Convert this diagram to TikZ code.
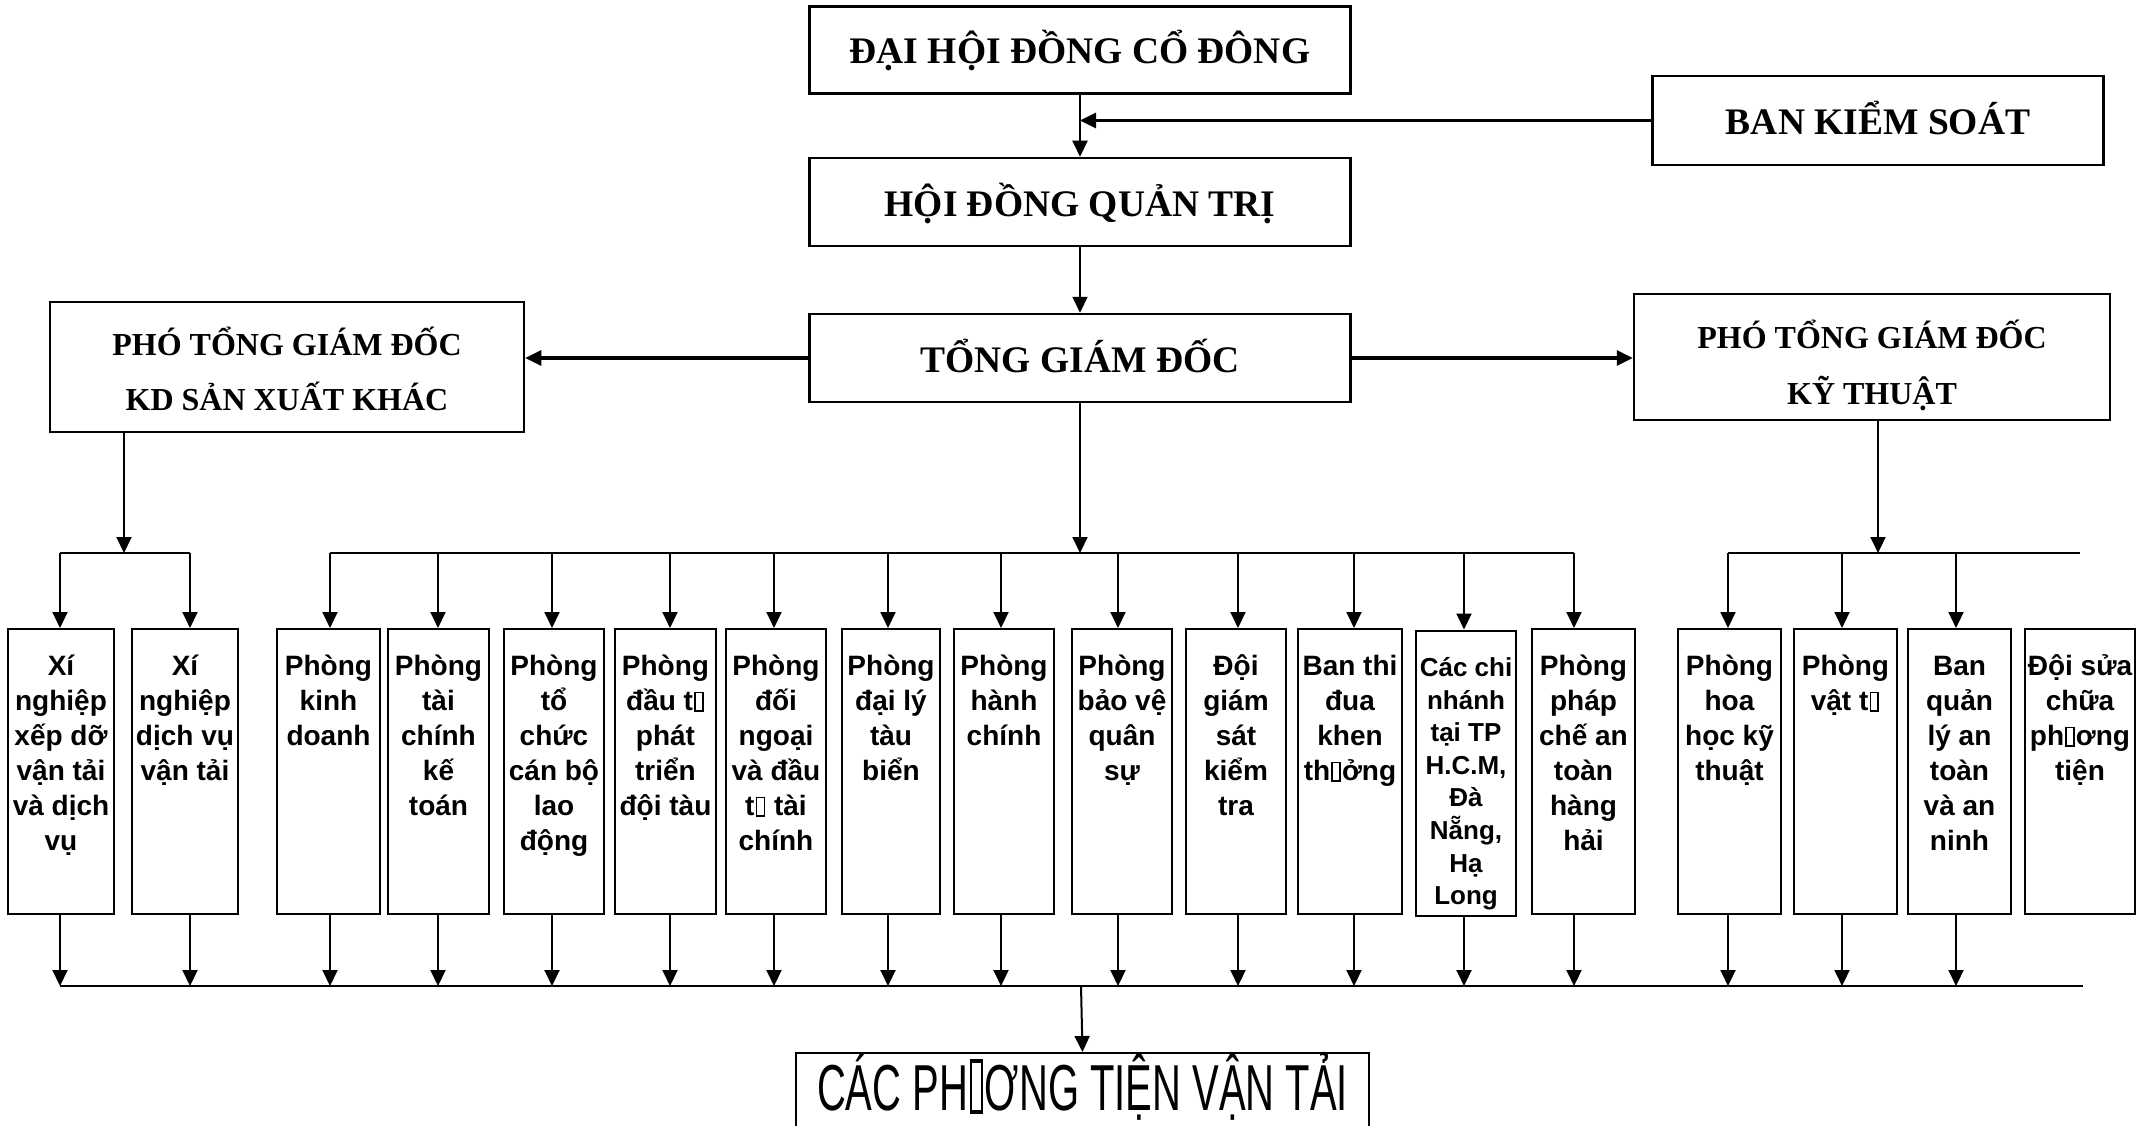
\documentclass[tikz,border=0pt]{standalone}
\usepackage{fontspec}
\usepackage{graphicx}
\setmainfont{Liberation Serif}
\newfontfamily\sansf{Liberation Sans}
\usetikzlibrary{arrows.meta}
\newcommand{\tofu}[1]{\kern0.04em\relax{\setlength{\fboxsep}{0pt}\setlength{\fboxrule}{0.06em}\fbox{\rule{0pt}{#1}\kern0.22em\relax}}\kern0.04em\relax}
\newcommand{\ulines}[2]{\parbox[c][285pt][t]{#1}{\centering\vspace*{18pt}\rule{0pt}{28pt}#2}}
\newcommand{\ulinesS}[2]{\parbox[c][285pt][t]{#1}{\centering\vspace*{20pt}\rule{0pt}{26pt}#2}}
\newcommand{\vlines}[4]{\parbox[c][#2][t]{#1}{\centering\vspace*{#3}\rule{0pt}{30pt}#4}}
\tikzset{
  topbox/.style={draw, line width=2.5pt, inner sep=0pt, font=\bfseries\fontsize{37.5}{44}\selectfont, text height=28pt, text depth=0pt},
  vicebox/.style={draw, line width=2.5pt, inner sep=0pt},
  unit/.style={draw, line width=2pt, inner sep=0pt, font=\sansf\bfseries\fontsize{28}{35}\selectfont},
  units/.style={draw, line width=2pt, inner sep=0pt, font=\sansf\bfseries\fontsize{26}{32.6}\selectfont},
  arr/.style={line width=2pt, -{Triangle[length=16pt,width=15pt]}},
  arrthick/.style={line width=3.2pt, -{Triangle[length=16pt,width=15pt]}},
  bus/.style={line width=2.2pt},
}
\begin{document}
\begin{tikzpicture}[x=1pt,y=-1pt]
\useasboundingbox (0,0) rectangle (2154,1126);
\clip (0,0) rectangle (2154,1126);
\fill[white] (0,0) rectangle (2154,1126);
% top level
\node[topbox, minimum width=541pt, minimum height=87pt] (dh) at (1080,50) {ĐẠI HỘI ĐỒNG CỔ ĐÔNG};
\node[topbox, minimum width=451pt, minimum height=89pt] (bks) at (1878,120.5) {BAN KIỂM SOÁT};
\node[topbox, minimum width=541pt, minimum height=88pt] (hd) at (1080,202) {HỘI ĐỒNG QUẢN TRỊ};
\node[topbox, minimum width=541pt, minimum height=88pt] (tgd) at (1080,358) {TỔNG GIÁM ĐỐC};
\node[vicebox, font=\bfseries\fontsize{32}{55}\selectfont] (kd) at (287,367) {\vlines{474pt}{130pt}{23pt}{PHÓ TỔNG GIÁM ĐỐC\\ KD SẢN XUẤT KHÁC}};
\node[vicebox, font=\bfseries\fontsize{32}{56}\selectfont] (kt) at (1872,357) {\vlines{476pt}{126pt}{24pt}{PHÓ TỔNG GIÁM ĐỐC\\KỸ THUẬT}};
\draw[arr] (dh.south) -- (hd.north);
\draw[arrthick] (bks.west) -- (bks.west -| dh.south);
\draw[arr] (hd.south) -- (tgd.north);
\draw[arrthick] (tgd.west) -- (kd.east |- tgd.west);
\draw[arrthick] (tgd.east) -- (kt.west |- tgd.east);
% bottom units
\node[unit] (b1) at (61,771.5) {\ulines{106pt}{Xí\\nghiệp\\xếp dỡ\\vận tải\\và dịch\\vụ}};
\node[unit] (b2) at (185,771.5) {\ulines{106pt}{Xí\\nghiệp\\dịch vụ\\vận tải}};
\node[unit] (b3) at (328.5,771.5) {\ulines{103pt}{Phòng\\kinh\\doanh}};
\node[unit] (b4) at (438.5,771.5) {\ulines{101pt}{Phòng\\tài\\chính\\kế\\toán}};
\node[unit] (b5) at (554,771.5) {\ulines{100pt}{Phòng\\tổ\\chức\\cán bộ\\lao\\động}};
\node[unit] (b6) at (665.5,771.5) {\ulines{101pt}{Phòng\\đầu t\tofu{0.6em}\\phát\\triển\\đội tàu}};
\node[unit] (b7) at (776,771.5) {\ulines{100pt}{Phòng\\đối\\ngoại\\và đầu\\t\tofu{0.6em} tài\\chính}};
\node[unit] (b8) at (891,771.5) {\ulines{98pt}{Phòng\\đại lý\\tàu\\biển}};
\node[unit] (b9) at (1004,771.5) {\ulines{100pt}{Phòng\\hành\\chính}};
\node[unit] (b10) at (1122,771.5) {\ulines{100pt}{Phòng\\bảo vệ\\quân\\sự}};
\node[unit] (b11) at (1236,771.5) {\ulines{100pt}{Đội\\giám\\sát\\kiểm\\tra}};
\node[unit] (b12) at (1350,771.5) {\ulines{104pt}{Ban thi\\đua\\khen\\th\tofu{0.6em}ởng}};
\node[units] (b13) at (1466,773) {\ulinesS{100pt}{Các chi\\nhánh\\tại TP\\H.C.M,\\Đà\\Nẵng,\\Hạ\\Long}};
\node[unit] (b14) at (1583.5,771.5) {\ulines{103pt}{Phòng\\pháp\\chế an\\toàn\\hàng\\hải}};
\node[unit] (b15) at (1729.5,771.5) {\ulines{103pt}{Phòng\\hoa\\học kỹ\\thuật}};
\node[unit] (b16) at (1845.5,771.5) {\ulines{103pt}{Phòng\\vật t\tofu{0.6em}}};
\node[unit] (b17) at (1959.5,771.5) {\ulines{103pt}{Ban\\quản\\lý an\\toàn\\và an\\ninh}};
\node[unit] (b18) at (2080,771.5) {\ulines{110pt}{Đội sửa\\chữa\\ph\tofu{0.6em}ơng\\tiện}};
% buses
\coordinate (lbl) at (60,553); \coordinate (lbr) at (190,553);
\coordinate (mbl) at (330,553); \coordinate (mbr) at (1574,553);
\coordinate (rbl) at (1728,553); \coordinate (rbr) at (2080,553);
\coordinate (bbl) at (60,986); \coordinate (bbr) at (2083,986);
\draw[bus] (lbl) -- (lbr);
\draw[bus] (mbl) -- (mbr);
\draw[bus] (rbl) -- (rbr);
\draw[bus] (bbl) -- (bbr);
\draw[arr] (124,0 |- kd.south) -- (124,553);
\draw[arr] (tgd.south) -- (tgd.south |- mbl);
\draw[arr] (1878,0 |- kt.south) -- (1878,553);
\foreach \b/\x in {b1/60, b2/190, b3/330, b4/438, b5/552, b6/670, b7/774, b8/888, b9/1001, b10/1118, b11/1238, b12/1354, b13/1464, b14/1574, b15/1728, b16/1842, b17/1956}{
  \draw[arr] (\x,553) -- (\x,0 |- \b.north);
  \draw[arr] (\x,0 |- \b.south) -- (\x,986);
}
% final
\node[draw, line width=2pt, minimum width=573pt, minimum height=100pt, anchor=north, inner sep=0pt] (cpt) at (1082.5,1052) {};
\node[anchor=base, inner sep=0pt, font=\sansf\fontsize{65}{70}\selectfont] (cptext) at (1082.5,1110) {\scalebox{0.615}[1]{CÁC PH\tofu{0.72em}ƠNG TIỆN VẬN TẢI}};
\draw[arr] (1081,986) -- (cpt.north);
\end{tikzpicture}
\end{document}
